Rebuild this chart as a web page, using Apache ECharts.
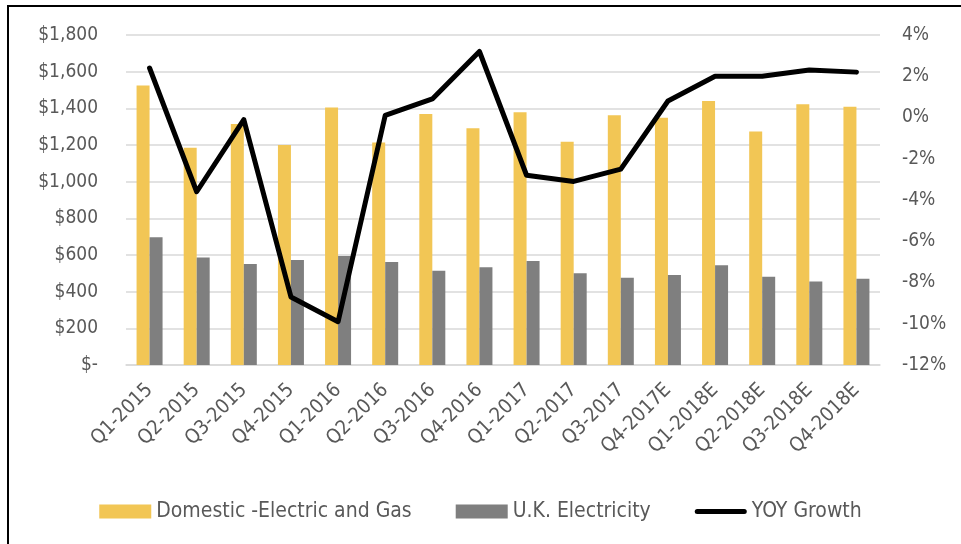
<!DOCTYPE html>
<html>
<head>
<meta charset="utf-8">
<script src="https://cdn.jsdelivr.net/npm/echarts@6/dist/echarts.min.js"></script>
<style>
html,body{margin:0;padding:0;background:#fff;}
#chart{width:961px;height:544px;}
</style>
</head>
<body>
<div id="chart"></div>
<script>
var quarters = ['Q1-2015','Q2-2015','Q3-2015','Q4-2015','Q1-2016','Q2-2016','Q3-2016','Q4-2016',
	'Q1-2017','Q2-2017','Q3-2017','Q4-2017E','Q1-2018E','Q2-2018E','Q3-2018E','Q4-2018E'];
var domestic = [1525,1185,1315,1200,1405,1213,1369,1291,1378,1218,1362,1349,1440,1273,1422,1409];
var ukElec = [697,587,551,573,595,562,514,533,567,500,476,491,544,481,456,471];
var yoyGrowth = [2.4,-3.6,-0.1,-8.7,-9.9,0.1,0.9,3.2,-2.8,-3.1,-2.5,0.8,2.0,2.0,2.3,2.2];

var fontFam = '"Liberation Sans Narrow","DejaVu Sans Condensed","Liberation Sans",sans-serif';
var txtColor = '#595959';

var chart = echarts.init(document.getElementById('chart'));

function money(v){
	if (v == 0) return '$-';
	return '$' + v.toString().replace(/\B(?=(\d{3})+(?!\d))/g, ',');
}

var opt = {
	backgroundColor: '#fff',
	animation: false,
	textStyle: {fontFamily: fontFam},
	graphic: [{
		type: 'rect',
		shape: {x: 8, y: 6, width: 960, height: 545},
		style: {fill: 'none', stroke: '#000', lineWidth: 2},
		silent: true
	}],
	grid: {left: 126, right: 81, top: 35, bottom: 179},
	legend: {
		top: 496,
		left: 'center',
		itemWidth: 52,
		itemHeight: 14,
		itemGap: 44,
		textStyle: {fontSize: 21, color: txtColor, fontFamily: fontFam},
		data: [
			{name: 'Domestic -Electric and Gas', icon: 'rect'},
			{name: 'U.K. Electricity', icon: 'rect'},
			// 线条图例：粗黑线
			{name: 'YOY Growth', icon: 'path://M0,0 M2.5,4.5 L49.5,4.5 A2.5,2.5 0 0 1 49.5,9.5 L2.5,9.5 A2.5,2.5 0 0 1 2.5,4.5 Z M52,14'}
		]
	},
	xAxis: [{
		type: 'category',
		data: quarters,
		boundaryGap: true,
		axisTick: {show: false},
		axisLine: {lineStyle: {color: '#d9d9d9', width: 1.5}},
		axisLabel: {rotate: 45, fontSize: 20, color: txtColor, margin: 22, interval: 0}
	}],
	yAxis: [{
		type: 'value',
		min: 0, max: 1800, interval: 200,
		axisLine: {show: false},
		axisTick: {show: false},
		splitLine: {lineStyle: {color: '#d9d9d9', width: 1.5}},
		axisLabel: {fontSize: 19, color: txtColor, margin: 28, formatter: money}
	}, {
		type: 'value',
		min: -12, max: 4, interval: 2,
		axisLine: {show: false},
		axisTick: {show: false},
		splitLine: {show: false},
		axisLabel: {fontSize: 19, color: txtColor, margin: 22, formatter: function(v){ return v + '%'; }}
	}],
	series: [{
		name: 'Domestic -Electric and Gas',
		type: 'bar',
		data: domestic,
		barWidth: 13,
		barGap: '0%',
		itemStyle: {color: '#f2c655'}
	}, {
		name: 'U.K. Electricity',
		type: 'bar',
		data: ukElec,
		barWidth: 13,
		barGap: '0%',
		itemStyle: {color: '#7f7f7f'}
	}, {
		name: 'YOY Growth',
		type: 'line',
		yAxisIndex: 1,
		data: yoyGrowth,
		symbol: 'none',
		lineStyle: {color: '#000', width: 5, cap: 'round', join: 'round'},
		itemStyle: {color: '#000'}
	}]
};
chart.setOption(opt);
</script>
</body>
</html>
